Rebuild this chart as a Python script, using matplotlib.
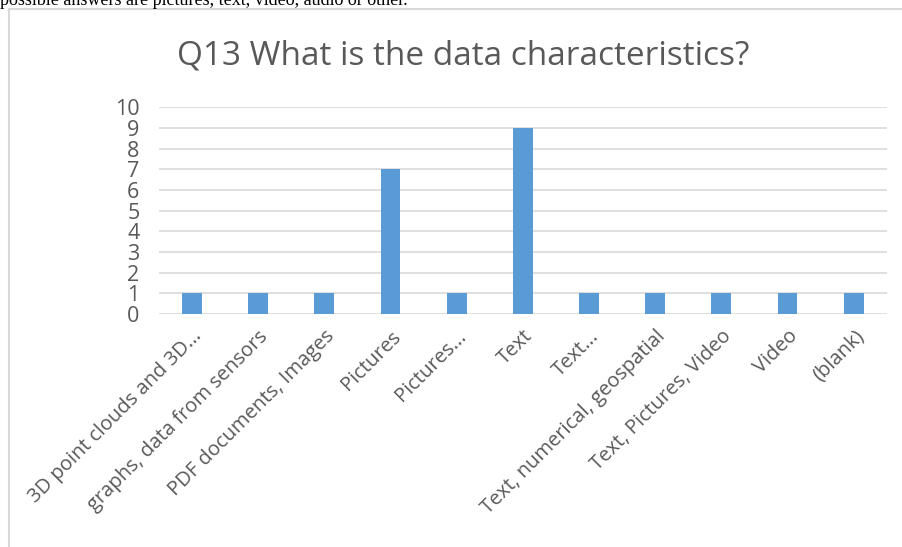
import numpy as np
import matplotlib.pyplot as plt
from matplotlib.lines import Line2D

# Réponses à la question 13
categories = ['3D point clouds and 3D...', 'graphs, data from sensors',
              'PDF documents, Images', 'Pictures', 'Pictures...', 'Text',
              'Text...', 'Text, numerical, geospatial', 'Text, Pictures, Video',
              'Video', '(blank)']
counts = [1, 1, 1, 7, 1, 9, 1, 1, 1, 1, 1]
yticks = list(range(0, 11))

plt.rcParams['font.family'] = ['Open Sans', 'DejaVu Sans']
gris = '#595959'

fig = plt.figure(figsize=(9.03, 5.47), dpi=100)
ax = fig.add_axes([0.176, 0.426, 0.806, 0.378])

x = np.arange(len(categories))
ax.bar(x, counts, width=0.3, color='#5B9BD5', zorder=3)

ax.set_xlim(-0.5, len(categories) - 0.5)
ax.set_ylim(0, 10)
ax.set_yticks(yticks)
ax.set_yticklabels([str(v) for v in yticks], fontsize=15.5, color=gris)
ax.set_xticks(x)
ax.set_xticklabels(categories, rotation=45, ha='right', rotation_mode='anchor',
                   fontsize=14.5, color=gris)
ax.tick_params(axis='y', length=0, pad=14)
ax.tick_params(axis='x', length=0, pad=9)
ax.yaxis.grid(True, color='#D9D9D9', linewidth=1.2, zorder=0)
for s in ax.spines.values():
    s.set_visible(False)

ax.set_title('Q13 What is the data characteristics?', fontsize=24, color=gris,
             pad=31, x=0.418)

# texte du document au-dessus du graphique
fig.text(0.0, 1 - 5 / 547, 'possible answers are pictures, text, video, audio or other.',
         family='Liberation Serif', fontsize=13, va='baseline', ha='left')

# cadre du graphique
fig.add_artist(Line2D([9 / 903, 1.0], [1 - 9 / 547, 1 - 9 / 547],
                      color='#D9D9D9', linewidth=1.5, transform=fig.transFigure))
fig.add_artist(Line2D([9 / 903, 9 / 903], [0.0, 1 - 9 / 547],
                      color='#D9D9D9', linewidth=1.5, transform=fig.transFigure))

fig.savefig('out.png', dpi=100)
